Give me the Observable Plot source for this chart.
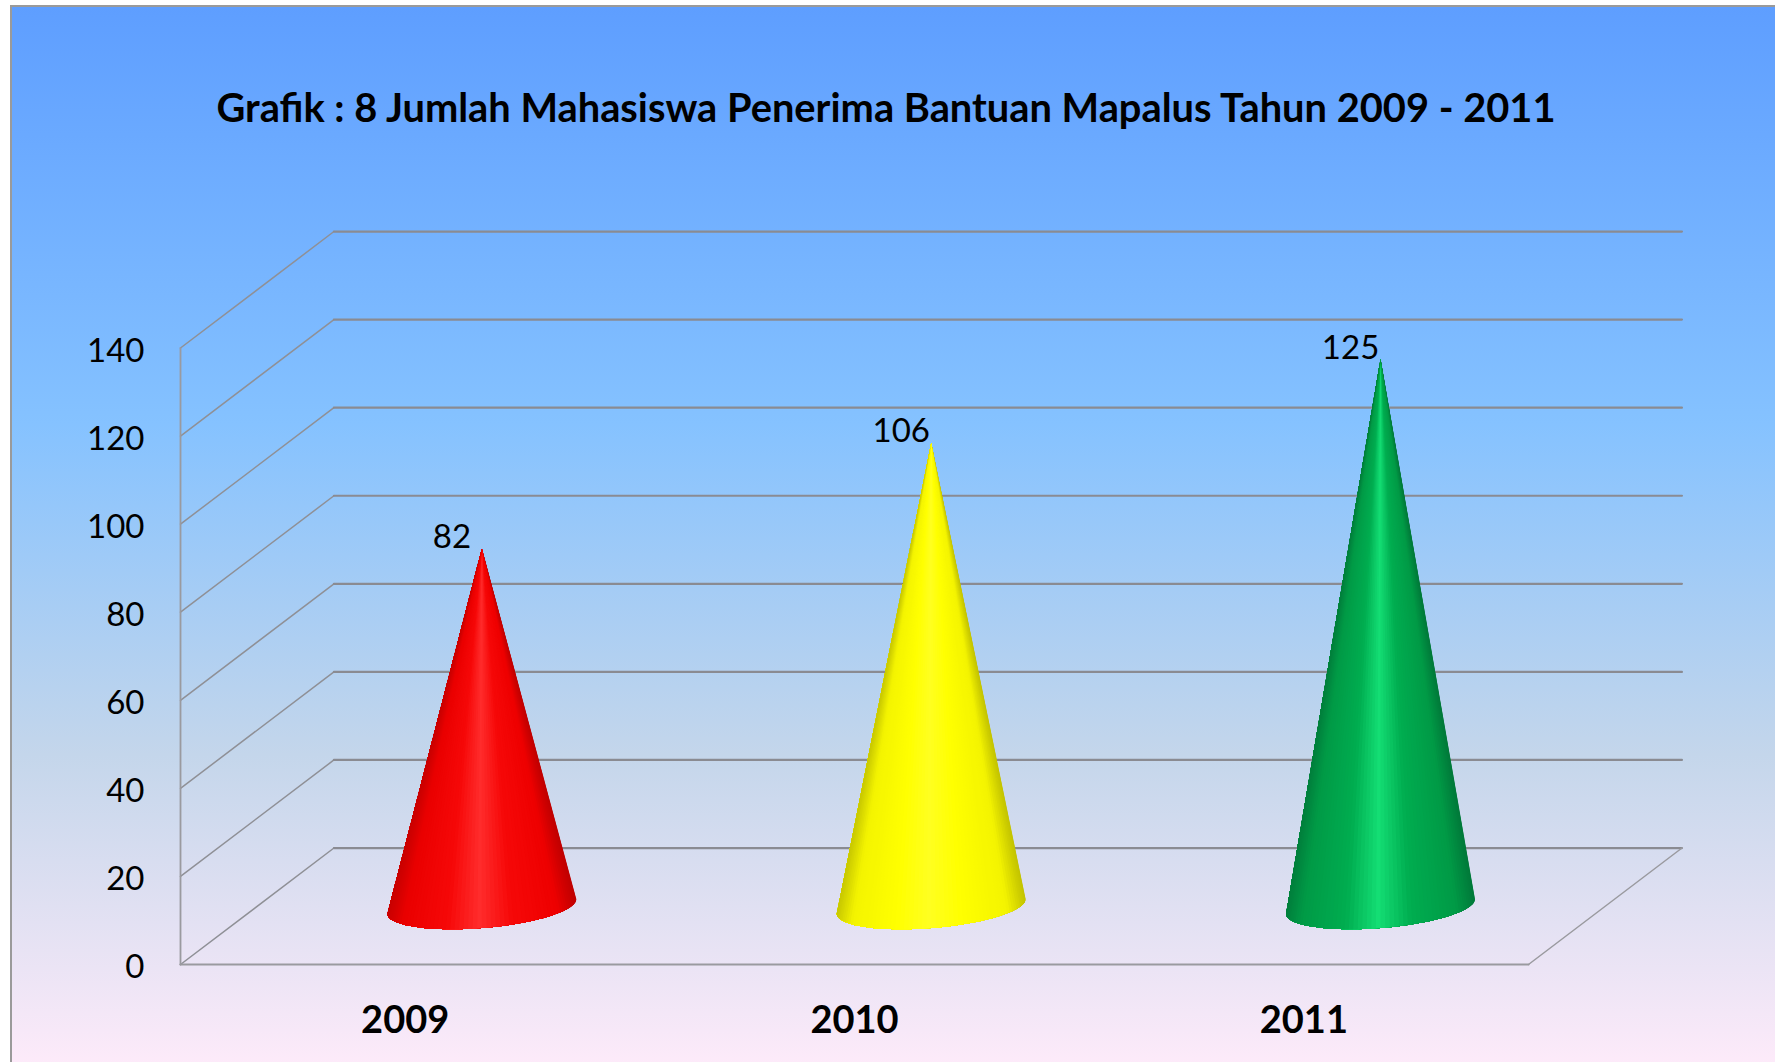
<!DOCTYPE html>
<html>
<head>
<meta charset="utf-8">
<script src="https://cdn.jsdelivr.net/npm/d3@7"></script>
<script src="https://cdn.jsdelivr.net/npm/@observablehq/plot@0.6"></script>
<style>
html,body{margin:0;padding:0;background:#fff;width:1775px;height:1062px;overflow:hidden}
#panel{position:absolute;left:10px;top:5px;width:1780px;height:1070px;box-sizing:border-box;
 border-left:2px solid #9a9a9a;border-top:2px solid #9a9a9a;
 background:linear-gradient(180deg,#5E9EFF 0%,#85C2FF 39%,#C4D6EB 70%,#FFEBFA 100%);font-family:Lato,sans-serif}
#title{width:1748px;height:173px;box-sizing:border-box;padding-top:78px;text-align:center;
 font:700 39.8px/44px Lato,sans-serif;color:#000}
#chart{position:absolute;left:-12px;top:173px}
svg{display:block}
</style>
</head>
<body>
<div id="panel"><div id="title">Grafik : 8 Jumlah Mahasiswa Penerima Bantuan Mapalus Tahun 2009 - 2011</div><div id="chart"></div></div>
<script>
const categories = ["2009", "2010", "2011"];
const values = [82, 106, 125];
const yTicks = [0, 20, 40, 60, 80, 100, 120, 140];
const shadeStops = [-1, -0.82, -0.35, 0, 0.35, 0.82, 1];
const coneShades = [
  ["#c80000", "#ea0000", "#f60808", "#ff2c2c", "#f60808", "#ee0000", "#c00000"],
  ["#c8c800", "#f4f400", "#ffff00", "#ffff20", "#ffff00", "#f4f400", "#c4c400"],
  ["#007f3c", "#009a46", "#00ad50", "#14de74", "#00ad50", "#009a46", "#007a3a"]
];

// Depth of the pseudo-3D floor, in data units of the two scales
const depthX = 0.3415, depthY = 26.45;
const n = categories.length;
const midX = depthX / 2, midY = depthY / 2;
const rX = 0.199, qX = 0.0674, qY = 5.22, tipDrop = 0.8;

const diagonals = yTicks.flatMap(v => [
  {k: v, x: 0, y: v},
  {k: v, x: depthX, y: v + depthY}
]);
const backLines = yTicks.flatMap(v => [
  {k: v, x: depthX, y: v + depthY},
  {k: v, x: n + depthX, y: v + depthY}
]);

const tExtreme = Math.atan2(qX, rX);
const extent = Math.hypot(rX, qX);
// Nested layers, painted one over the next, give the cone its round shading without seams
function coneLayers(i) {
  const cx = i + 0.5 + midX, cy = midY;
  const ramp = d3.scaleLinear().domain(shadeStops).range(coneShades[i]);
  const at = t => ({x: cx + rX * Math.cos(t) + qX * Math.sin(t), y: cy + qY * Math.sin(t)});
  const steps = 64, out = [];
  const rim = d3.range(steps + 1).map(s => at(tExtreme - Math.PI * s / steps));
  for (let s = 0; s < steps; s++) {
    const col = ramp((rim[s].x - cx) / extent);
    const k = `${i}-${String(s).padStart(3, "0")}`;
    out.push({k, col, x: cx, y: cy + values[i] - tipDrop});
    for (let j = s; j <= steps; j++) out.push({k, col, ...rim[j]});
  }
  return out;
}

const chart = Plot.plot({
  width: 1775,
  height: 882,
  marginLeft: 180,
  marginRight: 247,
  marginTop: 167.5,
  marginBottom: 98,
  style: {background: "transparent", overflow: "visible", fontFamily: "Lato, sans-serif"},
  x: {domain: [0, n], axis: null},
  y: {domain: [0, 140], axis: null},
  color: {type: "identity"},
  marks: [
    Plot.line(diagonals, {x: "x", y: "y", z: "k", stroke: "#8f9096", strokeWidth: 1.5}),
    Plot.line(backLines, {x: "x", y: "y", z: "k", stroke: "#8a8b92", strokeWidth: 2.2}),
    Plot.line([{x: 0, y: 0}, {x: 0, y: 140}], {x: "x", y: "y", stroke: "#9a9a9f", strokeWidth: 1.8}),
    Plot.line([{x: 0, y: 0}, {x: n, y: 0}], {x: "x", y: "y", stroke: "#9a9a9f", strokeWidth: 2.2}),
    Plot.line([{x: n, y: 0}, {x: n + depthX, y: depthY}], {x: "x", y: "y", stroke: "#9a9a9f", strokeWidth: 1.5}),
    ...categories.map((c, i) => Plot.line(coneLayers(i), {x: "x", y: "y", z: "k", fill: "col", stroke: "none"})),
    Plot.axisY(yTicks, {anchor: "left", tickSize: 0, tickPadding: 36, fontSize: 33, fill: "#000", label: null, dy: 3}),
    Plot.axisX(categories.map((c, i) => i + 0.5), {anchor: "bottom", tickSize: 0, tickPadding: 42, fontSize: 38, fontWeight: 700, fill: "#000", label: null, tickFormat: d => categories[d - 0.5]}),
    Plot.text(categories.map((c, i) => i), {
      x: i => i + 0.5 + midX,
      y: i => values[i] + midY,
      text: i => String(values[i]),
      dx: -30, fontSize: 33, fill: "#000", lineAnchor: "bottom", dy: 3
    })
  ]
});
document.getElementById("chart").append(chart);
</script>
</body>
</html>
